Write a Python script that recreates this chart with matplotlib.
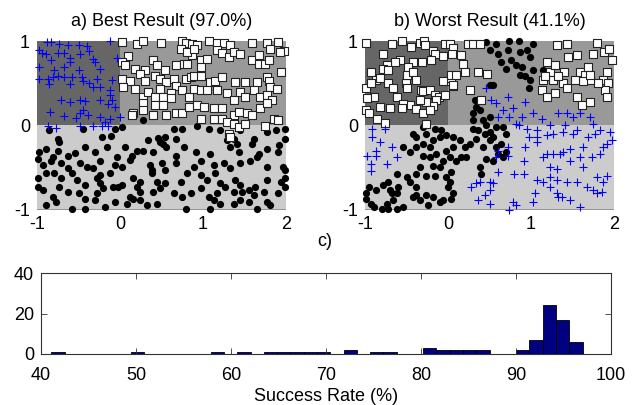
import numpy as np
import matplotlib
matplotlib.use("Agg")
import matplotlib.pyplot as plt
from matplotlib.patches import Rectangle

plt.rcParams['font.family'] = ['Liberation Sans', 'DejaVu Sans']

# ---------------- Panel a) Best result ----------------
a_plus_x = [-0.97,-0.88,-0.83,-0.94,-0.73,-0.63,-0.50,-0.40,-0.37,-0.12,-0.89,-0.75,-0.67,-0.83,-0.60,-0.60,
            -0.32,-0.30,-0.97,-0.79,-0.67,-0.04,-0.98,-0.87,-0.81,-0.75,-0.67,-0.58,-0.46,-0.44,-0.37,-0.28,
            -0.24,-0.12,-0.10,-0.85,-0.60,-0.71,-0.60,-0.48,-0.42,-0.24,-0.10,-0.12,-0.14,-0.84,-0.67,-0.53,
            -0.48,-0.38,-0.24,-0.12,0.00,-0.06,-0.87,-0.77,-0.48,-0.32,-0.22,-0.14,-0.18,-0.44,-0.32,-0.24,
            -0.50,-0.48]
a_plus_y = [0.89,0.99,0.99,0.86,0.97,0.95,0.95,0.94,0.88,1.00,0.85,0.86,0.86,0.77,0.80,0.75,
            0.79,0.75,0.69,0.65,0.69,0.80,0.55,0.55,0.57,0.59,0.57,0.57,0.57,0.53,0.50,0.55,
            0.45,0.42,0.54,0.49,0.49,0.30,0.28,0.30,0.29,0.30,0.30,0.36,0.25,0.16,0.11,0.09,
            0.14,0.12,0.10,0.08,0.10,0.22,-0.01,-0.03,-0.01,-0.01,-0.01,-0.01,0.04,0.18,0.45,0.67,
            0.65,0.85]

a_sq_x = [0.03,0.20,0.28,0.49,0.75,0.79,0.87,0.93,1.07,1.17,1.25,1.33,1.59,1.77,1.90,1.98,
          0.10,0.02,0.06,0.18,0.30,0.40,0.44,0.54,0.67,0.77,0.87,0.97,1.05,1.17,1.23,1.31,
          1.37,1.45,1.59,1.67,1.67,1.75,1.79,1.81,1.93,1.94,0.03,0.12,0.24,0.30,0.42,0.48,
          0.56,0.65,0.67,0.79,0.85,0.89,0.97,1.09,1.15,1.23,1.39,1.51,1.65,1.77,1.79,1.81,
          1.89,0.04,0.18,0.28,0.34,0.42,0.48,0.52,0.62,0.62,0.75,0.83,0.89,0.97,1.05,1.17,
          1.29,1.37,1.45,1.51,1.61,1.69,1.77,1.83,0.28,0.16,0.28,0.42,0.52,0.56,0.67,0.75,
          0.83,0.93,1.01,1.13,1.23,1.37,1.43,1.53,1.59,1.69,1.77,1.85,1.90,0.97,1.13,1.23,
          1.29,1.37,1.43,1.51,1.75,1.31,1.33,0.81,0.73,0.81,0.89,0.97,0.14,0.40]
a_sq_y = [0.99,0.97,1.00,0.98,1.00,0.98,0.97,0.95,1.00,0.98,0.98,0.95,0.98,0.98,0.99,0.88,
          0.82,0.75,0.71,0.67,0.66,0.77,0.71,0.65,0.71,0.73,0.83,0.77,0.79,0.89,0.86,0.81,
          0.87,0.85,0.77,0.83,0.73,0.73,0.77,0.90,0.87,0.63,0.55,0.53,0.61,0.53,0.59,0.55,
          0.51,0.55,0.47,0.55,0.57,0.58,0.59,0.51,0.53,0.57,0.51,0.51,0.51,0.57,0.53,0.45,
          0.43,0.45,0.43,0.34,0.40,0.34,0.43,0.34,0.38,0.32,0.42,0.34,0.43,0.42,0.42,0.42,
          0.38,0.30,0.40,0.34,0.42,0.34,0.36,0.30,0.26,0.14,0.18,0.24,0.24,0.12,0.14,0.14,
          0.22,0.24,0.22,0.20,0.20,0.12,0.16,0.14,0.12,0.20,0.26,0.08,0.06,0.08,0.08,0.07,
          0.04,0.02,-0.02,0.02,-0.01,-0.10,-0.14,0.73,0.90,0.87,0.90,0.69,0.12,0.12]

a_dot_x = [-0.86,-0.75,-0.73,-0.44,-0.22,-0.11,-0.06,0.02,0.28,0.34,0.46,0.48,0.54,0.65,0.67,0.75,
           0.93,1.07,1.21,1.29,1.37,1.45,1.61,1.77,1.88,1.99,1.99,
           -0.97,-0.89,-0.81,-0.75,-0.63,-0.54,-0.42,-0.30,-0.24,-0.16,-0.04,0.06,0.14,0.20,0.28,0.40,
           0.52,0.56,0.67,0.77,0.91,1.09,1.33,1.41,1.43,1.59,1.67,1.77,1.90,1.92,
           -0.99,-0.93,-0.83,-0.71,-0.63,-0.48,-0.40,-0.32,-0.24,-0.06,0.02,0.12,0.36,0.38,0.50,0.54,
           0.67,0.89,0.97,1.13,1.25,1.33,1.45,1.57,1.65,1.77,1.96,1.99,
           -0.99,-0.89,-0.79,-0.71,-0.58,-0.52,-0.42,-0.28,-0.24,-0.12,0.02,0.16,0.24,0.38,0.44,0.54,
           0.73,0.81,0.97,1.05,1.15,1.21,1.39,1.45,1.63,1.77,1.94,1.99,
           -0.99,-0.93,-0.81,-0.73,-0.63,-0.50,-0.42,-0.28,-0.20,-0.08,-0.02,0.12,0.20,0.24,0.40,0.48,
           0.65,0.75,0.85,0.97,1.07,1.17,1.27,1.37,1.47,1.55,1.61,1.73,1.90,1.99,
           -0.89,-0.77,-0.58,-0.42,-0.30,-0.18,-0.06,0.08,0.16,0.24,0.32,0.44,0.79,1.09,1.13,1.21,
           1.37,1.45,1.55,1.65,1.77,1.81]
a_dot_y = [-0.06,-0.16,-0.20,-0.04,-0.14,-0.13,-0.04,-0.02,0.06,-0.18,-0.15,-0.20,-0.14,-0.05,-0.16,-0.04,
           -0.01,-0.05,-0.06,-0.18,-0.16,-0.06,-0.16,-0.08,-0.06,-0.05,-0.16,
           -0.32,-0.28,-0.38,-0.30,-0.36,-0.33,-0.26,-0.32,-0.42,-0.26,-0.38,-0.26,-0.36,-0.30,-0.30,-0.32,
           -0.22,-0.26,-0.36,-0.26,-0.32,-0.34,-0.26,-0.22,-0.32,-0.22,-0.34,-0.28,-0.32,-0.24,
           -0.40,-0.47,-0.43,-0.45,-0.51,-0.45,-0.49,-0.51,-0.59,-0.47,-0.49,-0.41,-0.47,-0.53,-0.45,-0.53,
           -0.45,-0.49,-0.42,-0.47,-0.45,-0.51,-0.45,-0.42,-0.38,-0.49,-0.49,-0.53,
           -0.63,-0.57,-0.57,-0.63,-0.57,-0.65,-0.71,-0.63,-0.69,-0.57,-0.71,-0.63,-0.67,-0.57,-0.67,-0.69,
           -0.67,-0.57,-0.59,-0.65,-0.57,-0.69,-0.65,-0.71,-0.73,-0.65,-0.67,-0.63,
           -0.73,-0.77,-0.85,-0.73,-0.79,-0.81,-0.87,-0.81,-0.75,-0.73,-0.73,-0.85,-0.73,-0.79,-0.79,-0.75,
           -0.81,-0.85,-0.81,-0.75,-0.85,-0.81,-0.73,-0.79,-0.79,-0.77,-0.83,-0.79,-0.81,-0.73,
           -0.95,-0.91,-0.99,-0.99,-0.89,-0.97,-0.91,-0.93,-0.87,-0.89,-0.95,-0.93,-0.99,-0.99,-0.89,-0.93,
           -0.93,-0.89,-0.91,-0.99,-0.91,-0.95]

# ---------------- Panel b) Worst result ----------------
b_sq_x = [-0.99,-0.78,-0.67,-0.56,-0.44,-0.34,-0.29,-0.28,-0.18,-0.04,0.02,0.06,0.05,-0.06,-0.16,-0.20,
          -0.31,-0.42,-0.48,-0.58,-0.64,-0.74,-0.78,-0.93,-0.99,-0.87,-0.82,-0.72,-0.72,-0.66,-0.62,-0.51,
          -0.49,-0.42,-0.38,-0.33,-0.30,-0.22,-0.16,-0.11,-0.04,0.00,0.04,0.06,-0.14,-0.18,-0.26,-0.34,
          -0.46,-0.54,-0.56,-0.38,-0.30,-0.22,-0.82,-0.70,-0.99,-0.95,-0.86,-0.76,-0.26,0.04,-0.06,-0.50,
          -0.93,-0.89,-0.97,
          0.16,0.18,0.24,0.30,0.36,0.38,0.10,0.06,0.26,0.40,0.47,0.20,
          1.19,1.23,1.29,1.31,1.43,1.45,1.40,1.55,1.59,1.65,1.69,1.75,1.79,1.88,1.94,1.97,
          1.91,1.87,1.93,1.89,1.81,1.71,1.63,1.53,1.39,1.27,1.15,1.13,1.19,1.29,1.43,1.55,
          1.61,1.71,1.91,1.17,1.33,1.71]
b_sq_y = [0.98,0.85,0.97,1.00,0.93,0.98,1.00,0.95,0.88,0.97,0.97,0.92,0.85,0.82,0.85,0.77,
          0.75,0.75,0.69,0.77,0.75,0.71,0.67,0.63,0.44,0.54,0.56,0.65,0.50,0.44,0.34,0.50,
          0.60,0.63,0.54,0.42,0.41,0.42,0.36,0.34,0.36,0.52,0.56,0.46,0.30,0.23,0.28,0.30,
          0.24,0.25,0.20,0.19,0.14,0.18,0.22,0.20,0.18,0.14,0.08,0.03,0.01,0.60,0.52,0.44,
          0.50,0.34,0.32,
          0.83,0.73,0.97,0.97,0.63,0.97,0.60,0.48,0.42,0.30,0.61,0.63,
          0.75,0.63,0.71,0.95,0.97,0.81,0.63,0.83,0.63,0.60,0.69,0.85,0.98,0.87,0.90,0.77,
          0.63,0.54,0.50,0.42,0.50,0.54,0.52,0.54,0.50,0.54,0.54,0.42,0.34,0.38,0.44,0.34,
          0.24,0.28,0.34,0.58,0.58,0.60]

b_dot_x = [0.46,0.58,0.74,0.85,1.03,0.50,0.60,0.72,0.76,0.87,0.95,0.99,0.64,0.82,0.89,1.03,
           0.93,0.99,1.15,0.70,0.87,0.97,0.50,0.54,
           0.32,0.34,0.30,0.30,0.38,0.42,0.50,0.46,0.50,0.58,0.66,0.70,0.54,0.44,0.36,0.30,
           -0.30,-0.16,-0.08,-0.42,-0.38,-0.26,-0.18,-0.10,-0.02,0.06,-0.30,-0.22,-0.38,-0.54,-0.46,-0.30,
           -0.22,-0.14,-0.02,0.06,0.14,0.20,0.26,0.34,0.42,0.50,0.58,0.64,0.70,0.66,0.60,0.54,
           0.46,0.38,0.40,0.22,0.16,0.10,0.02,-0.06,-0.10,-0.18,
           -0.99,-0.95,-0.87,-0.78,-0.72,-0.62,-0.50,-0.46,-0.38,-0.42,-0.34,-0.26,-0.18,-0.06,0.00,0.06,
           0.04,-0.02,-0.16,-0.26,-0.34,-0.38,-0.60,-0.62,-0.66,-0.74,-0.80,-0.72,-0.62,-0.54,-0.89,-0.93,
           -0.99,0.02,0.04,-0.24,-0.10,-0.38,-0.68,-0.70]
b_dot_y = [0.99,0.97,1.00,1.00,0.97,0.89,0.85,0.89,0.77,0.87,0.89,0.81,0.75,0.71,0.69,0.65,
           0.58,0.54,0.66,0.67,0.60,0.44,0.48,0.48,
           0.30,0.22,0.14,0.06,0.18,0.06,0.10,0.00,-0.08,-0.02,-0.02,-0.10,-0.14,-0.10,-0.06,-0.04,
           -0.02,-0.04,-0.06,-0.10,-0.14,-0.10,-0.18,-0.14,-0.12,-0.14,-0.22,-0.26,-0.26,-0.26,-0.32,-0.36,
           -0.38,-0.34,-0.30,-0.26,-0.18,-0.26,-0.22,-0.16,-0.26,-0.18,-0.26,-0.22,-0.32,-0.38,-0.34,-0.42,
           -0.40,-0.50,-0.58,-0.38,-0.38,-0.42,-0.38,-0.42,-0.50,-0.48,
           -0.81,-0.73,-0.77,-0.71,-0.67,-0.58,-0.62,-0.67,-0.73,-0.85,-0.89,-0.83,-0.85,-0.89,-0.73,-0.81,
           -0.56,-0.62,-0.60,-0.60,-0.50,-0.58,-0.73,-0.81,-0.89,-0.93,-0.99,-0.99,-0.99,-0.97,-0.97,-0.93,
           -0.87,-0.67,-0.87,-0.95,-0.91,-0.83,-0.81,-0.77]

b_plus_x = [-0.91,-0.76,-0.91,-0.82,-0.87,-0.97,-0.87,-0.93,-0.93,-0.74,-0.68,-0.62,
            0.46,0.52,0.58,0.60,0.66,0.72,0.74,0.78,0.82,0.85,0.89,0.93,0.95,1.03,1.07,1.13,
            1.23,1.33,1.41,1.43,1.51,1.55,1.59,1.71,1.75,1.83,1.95,1.97,1.91,1.77,1.69,1.63,
            1.51,1.47,1.39,1.27,1.19,1.07,0.97,0.93,1.07,1.19,1.27,1.35,1.39,1.23,1.31,1.47,
            1.59,1.63,1.73,1.83,1.87,1.91,1.87,1.75,1.85,1.79,1.67,1.55,1.43,1.31,1.23,1.33,
            1.31,1.15,1.07,1.05,1.03,0.91,0.91,0.80,0.72,0.72,0.60,0.54,0.50,0.50,0.38,0.34,
            0.28,0.36,0.44,0.50,0.78,0.82,0.74,0.58,0.60,1.59,1.47,1.37,1.79,1.23,1.15]
b_plus_y = [-0.04,-0.04,-0.14,-0.20,-0.30,-0.36,-0.36,-0.46,-0.54,-0.46,-0.26,-0.38,
            0.44,0.30,0.26,0.10,0.18,0.34,0.10,0.20,0.02,0.00,0.10,0.28,-0.04,0.14,-0.06,0.08,
            0.00,0.14,0.00,0.14,0.10,-0.06,0.14,0.10,0.02,-0.06,-0.08,-0.18,-0.22,-0.10,-0.14,-0.26,
            -0.10,-0.28,-0.08,-0.10,-0.12,-0.14,-0.14,-0.26,-0.20,-0.34,-0.34,-0.34,-0.32,-0.50,-0.52,-0.42,
            -0.38,-0.50,-0.38,-0.34,-0.26,-0.60,-0.67,-0.77,-0.79,-0.81,-0.73,-0.67,-0.67,-0.65,-0.73,-0.85,
            -0.81,-0.67,-0.65,-0.81,-0.91,-0.58,-0.42,-0.58,-0.26,-0.36,-0.56,-0.69,-0.67,-0.77,-0.67,-0.69,
            -0.73,-0.89,-0.83,-0.93,-0.91,-0.95,-1.00,-0.38,-0.30,-0.97,-0.89,-0.85,-0.62,-0.62,-0.38]

# ---------------- Panel c) histogram of success rates ----------------
rate_min, rate_max = 41.1, 97.0
bin_counts = [1,0,0,0,0,0,1,0,0,0,0,0,1,0,1,0,1,1,1,1,
              1,0,2,0,1,1,0,0,3,2,2,2,2,0,0,2,7,24,17,6]

bg_dark, bg_mid, bg_light = '#666666', '#999999', '#cccccc'
FS = 13

fig = plt.figure(figsize=(6.36, 4.05), dpi=100)


def panel(rect, title, sq, dots, plus):
    ax = fig.add_axes(rect)
    ax.set_xlim(-1, 2)
    ax.set_ylim(-1, 1)
    ax.add_patch(Rectangle((-1, 0), 1, 1, facecolor=bg_dark, edgecolor='none', zorder=0))
    ax.add_patch(Rectangle((0, 0), 2, 1, facecolor=bg_mid, edgecolor='none', zorder=0))
    ax.add_patch(Rectangle((-1, -1), 3, 1, facecolor=bg_light, edgecolor='none', zorder=0))
    ax.axhline(-1, color='#8c8c8c', lw=1.2, zorder=1)
    ax.scatter(dots[0], dots[1], s=27, c='black', marker='o', linewidths=0, zorder=3, clip_on=False)
    ax.scatter(sq[0], sq[1], s=28, facecolor='white', edgecolor='#222222', marker='s',
               linewidths=0.8, zorder=3, clip_on=False)
    ax.scatter(plus[0], plus[1], s=36, c='#0000ff', marker='+', linewidths=0.8, zorder=4, clip_on=False)
    for sp in ax.spines.values():
        sp.set_visible(False)
    ax.set_xticks([-1, 0, 1, 2])
    ax.set_yticks([-1, 0, 1])
    ax.set_xticklabels(['-1', '0', '1', '2'])
    ax.set_yticklabels(['-1', '0', '1'])
    ax.tick_params(length=0, labelsize=FS, pad=5)
    ax.set_title(title, fontsize=FS, pad=11)
    return ax


panel([37/636, 1-209.5/405, 249/636, 168.5/405], 'a) Best Result (97.0%)',
      (a_sq_x, a_sq_y), (a_dot_x, a_dot_y), (a_plus_x, a_plus_y))
panel([365/636, 1-209.5/405, 249/636, 168.5/405], 'b) Worst Result (41.1%)',
      (b_sq_x, b_sq_y), (b_dot_x, b_dot_y), (b_plus_x, b_plus_y))

axh = fig.add_axes([41/636, 1-354/405, 570/636, 81/405])
edges = np.linspace(rate_min, rate_max, len(bin_counts) + 1)
axh.bar(edges[:-1], bin_counts, width=np.diff(edges), align='edge',
        color='#000080', edgecolor='black', linewidth=0.6)
axh.set_xlim(40, 100)
axh.set_ylim(0, 40)
axh.set_xticks(range(40, 101, 10))
axh.set_yticks([0, 20, 40])
axh.tick_params(direction='in', length=4, top=True, right=True, labelsize=FS, width=0.6,
                color='#333333')
axh.tick_params(axis='x', pad=9)
axh.tick_params(axis='y', pad=5)
for sp in axh.spines.values():
    sp.set_color('#333333')
    sp.set_linewidth(0.8)
axh.set_xlabel('Success Rate (%)', fontsize=FS, labelpad=3)
fig.text(325/636, 1-242/405, 'c)', ha='center', va='center', fontsize=FS)

fig.savefig('out.png', dpi=100)
